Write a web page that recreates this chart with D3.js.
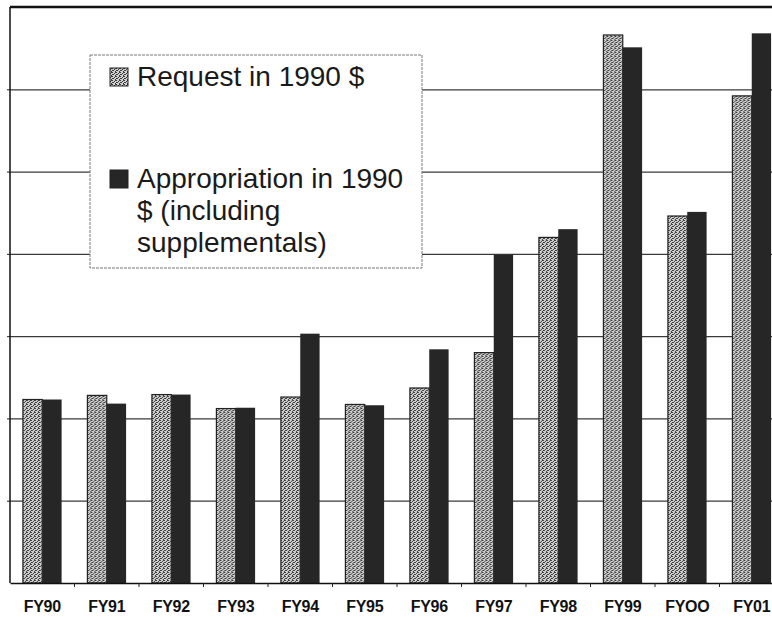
<!DOCTYPE html>
<html>
<head>
<meta charset="utf-8">
<script src="https://cdn.jsdelivr.net/npm/d3@7"></script>
<style>
  html, body { margin: 0; padding: 0; background: #fff; }
  svg { display: block; font-family: "Liberation Sans", Arial, sans-serif; }
</style>
</head>
<body>
<svg id="chart" width="772" height="617"></svg>
<script>
const categories = ["FY90", "FY91", "FY92", "FY93", "FY94", "FY95", "FY96", "FY97", "FY98", "FY99", "FYOO", "FY01"];
const requestValues = [2.23, 2.28, 2.29, 2.12, 2.26, 2.17, 2.37, 2.80, 4.20, 6.66, 4.46, 5.92];
const appropriationValues = [2.23, 2.18, 2.29, 2.13, 3.03, 2.16, 2.84, 3.99, 4.30, 6.51, 4.51, 6.68];
const seriesNames = ["request", "appropriation"];
const legendLines = [
  ["Request in 1990 $"],
  ["Appropriation in 1990", "$ (including", "supplementals)"]
];
const gridValues = [1, 2, 3, 4, 5, 6];

const svg = d3.select("#chart");

// ** PATTERN FOR THE REQUEST BARS ** //
const defs = svg.append("defs");
const pat = defs.append("pattern")
  .attr("id", "stipple")
  .attr("width", 4).attr("height", 4)
  .attr("patternUnits", "userSpaceOnUse");
pat.append("rect").attr("width", 4).attr("height", 4).attr("fill", "#d0d0d0");
[[0, 0], [2, 1], [1, 2], [3, 3], [3, 0], [0, 2]].forEach(([px, py]) => {
  pat.append("rect").attr("x", px).attr("y", py).attr("width", 1).attr("height", 1).attr("fill", "#3c3c3c");
});

// ** SCALES ** //
const plotLeft = 10, plotTop = 7, plotBottom = 583, plotRight = 784;
const x0 = d3.scaleBand().domain(categories).range([plotLeft, plotRight]).paddingInner(0.4).paddingOuter(0.2);
const x1 = d3.scaleBand().domain(seriesNames).range([0, x0.bandwidth()]);
const y = d3.scaleLinear().domain([0, 7]).range([plotBottom, plotTop]);

// gridlines
svg.append("g")
  .attr("transform", `translate(${plotLeft},0)`)
  .call(d3.axisLeft(y).tickValues(gridValues).tickSize(-(772 - plotLeft)).tickFormat(""))
  .call(g => g.select(".domain").remove())
  .call(g => g.selectAll("line").attr("stroke", "#3a3a3a").attr("stroke-width", 1.3));

// small outward ticks
svg.append("g")
  .attr("transform", `translate(${plotLeft},0)`)
  .call(d3.axisLeft(y).tickValues(gridValues).tickSize(3).tickFormat(""))
  .call(g => g.select(".domain").remove())
  .call(g => g.selectAll("line").attr("stroke", "#222"));

// ** BARS ** //
const rows = categories.map((c, i) => ({ cat: c, request: requestValues[i], appropriation: appropriationValues[i] }));

const groups = svg.append("g")
  .selectAll("g")
  .data(rows)
  .join("g")
  .attr("transform", d => `translate(${x0(d.cat)},0)`);

groups.selectAll("rect")
  .data(d => seriesNames.map(k => ({ key: k, value: d[k] })))
  .join("rect")
  .attr("x", d => x1(d.key))
  .attr("y", d => y(d.value))
  .attr("width", x1.bandwidth())
  .attr("height", d => y(0) - y(d.value))
  .attr("fill", d => d.key === "request" ? "url(#stipple)" : "#262626")
  .attr("stroke", "#222")
  .attr("stroke-width", d => d.key === "request" ? 1.2 : 0);

// ** AXES ** //
const xAxis = svg.append("g")
  .attr("transform", `translate(0,${plotBottom})`)
  .call(d3.axisBottom(x0).tickSize(0).tickPadding(18))
  .call(g => g.select(".domain").attr("stroke", "#111").attr("stroke-width", 1.5));
xAxis.selectAll("text")
  .attr("fill", "#111")
  .attr("font-size", 16)
  .attr("font-weight", "bold")
  .attr("font-family", "'Liberation Sans', Arial, sans-serif")
  .attr("letter-spacing", -0.3);

// boundary ticks under the axis
svg.append("g")
  .selectAll("line")
  .data(categories.slice(1))
  .join("line")
  .attr("x1", d => x0(d) - x0.step() * x0.paddingInner() / 2)
  .attr("x2", d => x0(d) - x0.step() * x0.paddingInner() / 2)
  .attr("y1", plotBottom)
  .attr("y2", plotBottom + 4)
  .attr("stroke", "#222");

// left axis line and top frame
svg.append("line").attr("x1", plotLeft).attr("x2", plotLeft).attr("y1", plotTop).attr("y2", plotBottom)
  .attr("stroke", "#111").attr("stroke-width", 1.5);
svg.append("line").attr("x1", plotLeft).attr("x2", 772).attr("y1", plotTop).attr("y2", plotTop)
  .attr("stroke", "#111").attr("stroke-width", 2.5);

// ** LEGEND ** //
const legend = svg.append("g");
legend.append("rect")
  .attr("x", 90).attr("y", 55).attr("width", 332).attr("height", 213)
  .attr("fill", "#fff").attr("stroke", "#777").attr("stroke-width", 1)
  .attr("stroke-dasharray", "3,1");

const legendY = [86, 188];
legendLines.forEach((lines, i) => {
  legend.append("rect")
    .attr("x", 110).attr("y", legendY[i] - 18)
    .attr("width", 18).attr("height", 18)
    .attr("fill", i === 0 ? "url(#stipple)" : "#262626")
    .attr("stroke", "#222").attr("stroke-width", 1);
  const t = legend.append("text")
    .attr("x", 137).attr("y", legendY[i])
    .attr("font-size", 28)
    .attr("fill", "#1a1a1a");
  lines.forEach((ln, j) => {
    t.append("tspan").attr("x", 137).attr("dy", j === 0 ? 0 : 32).text(ln);
  });
});
</script>
</body>
</html>
